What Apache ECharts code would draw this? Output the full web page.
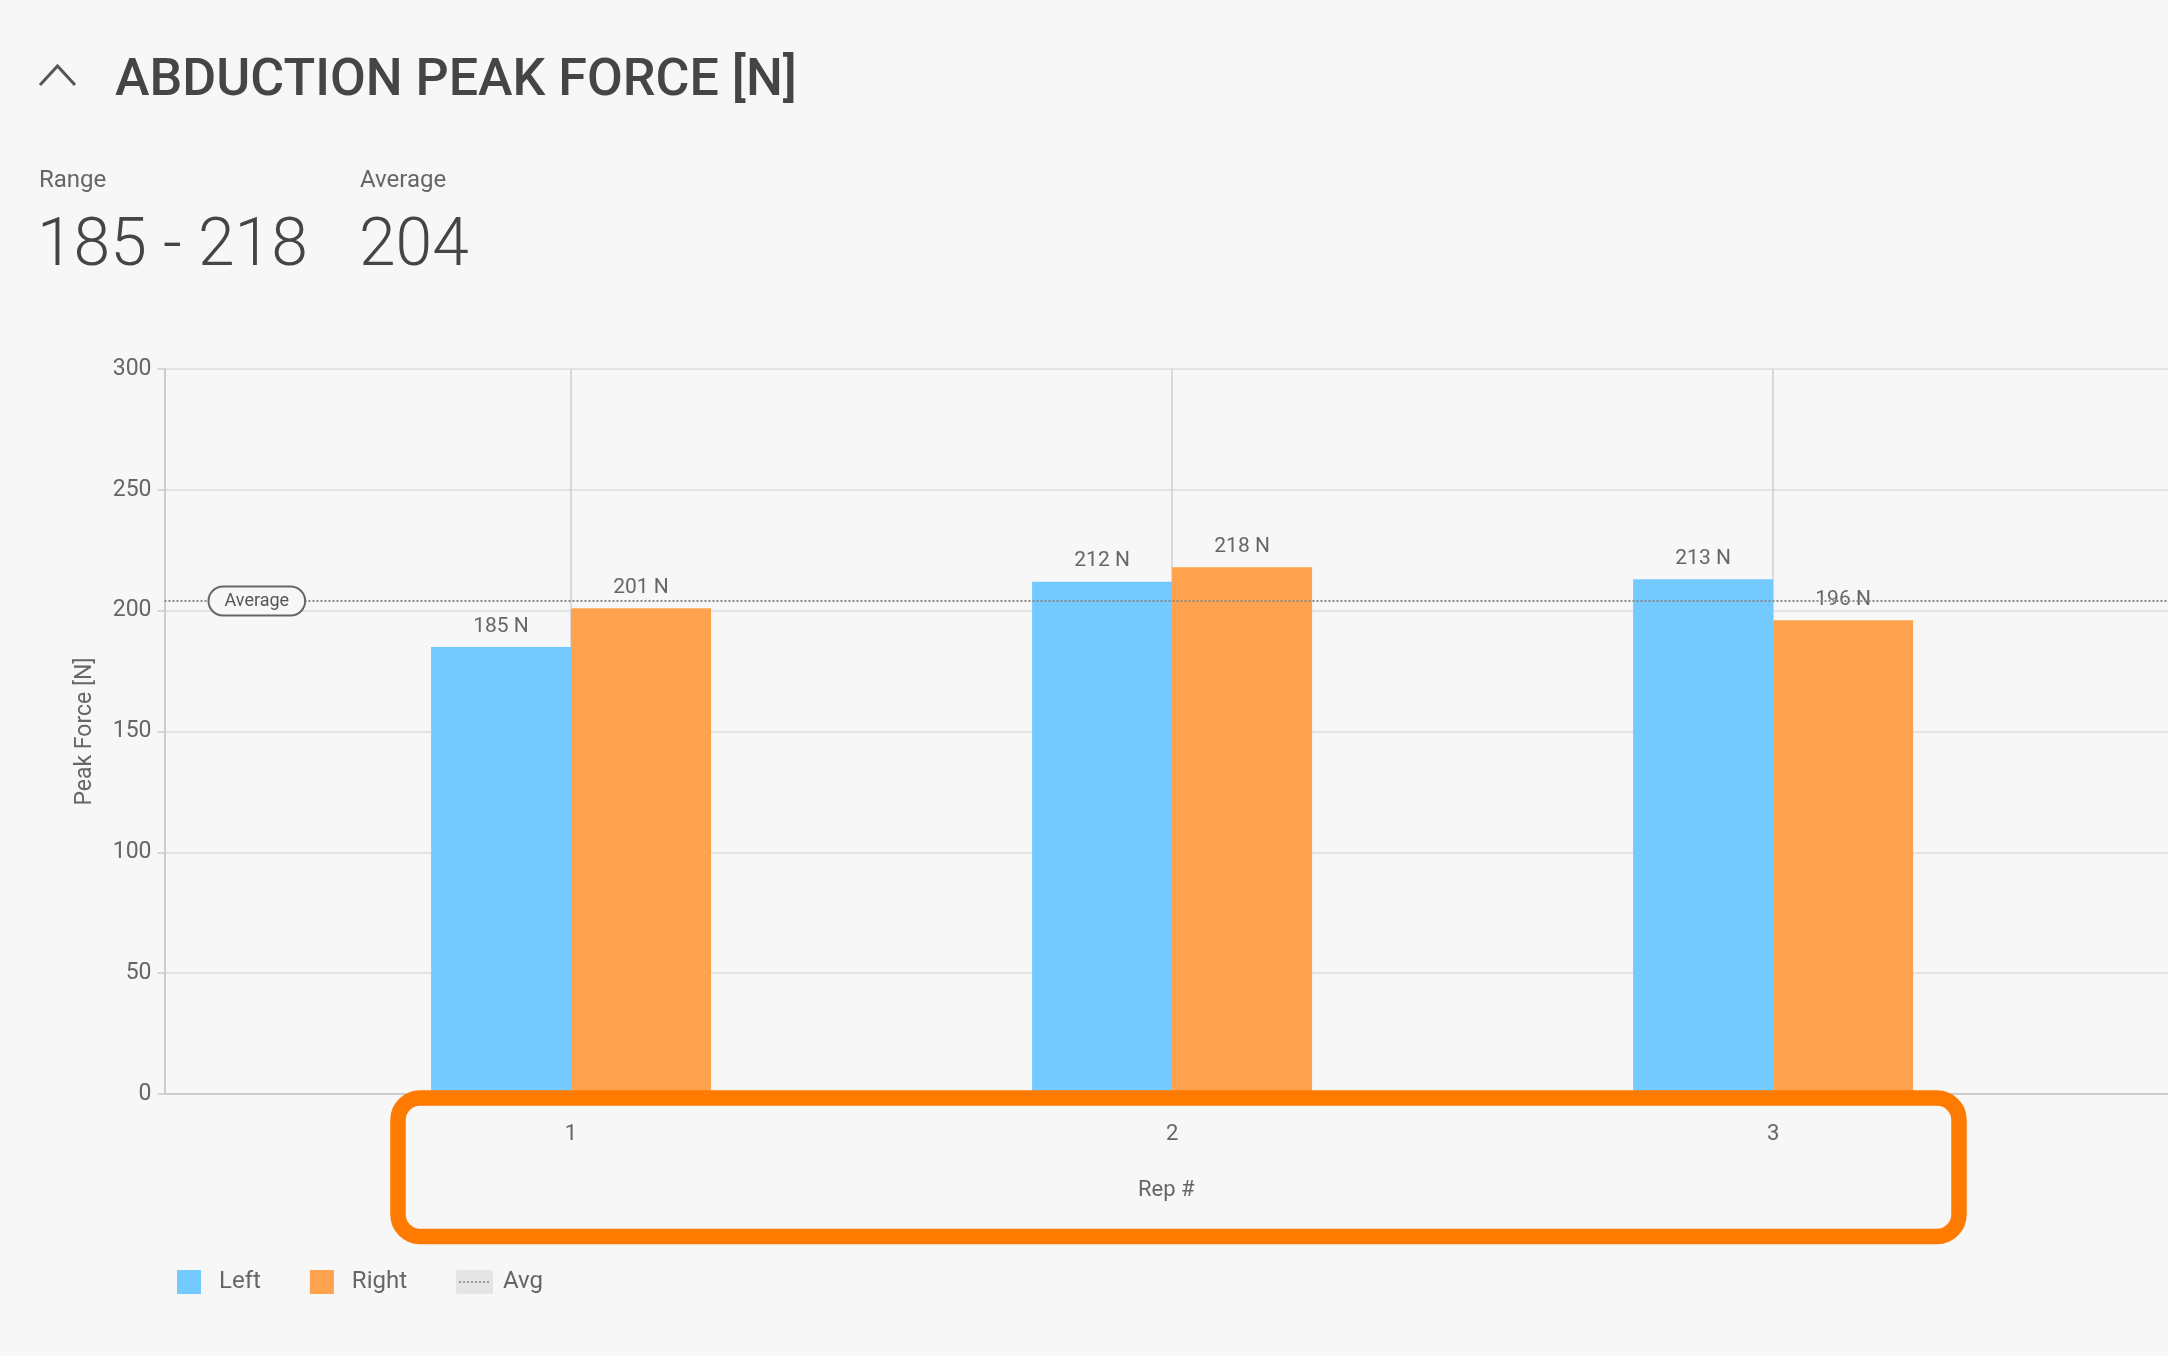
<!DOCTYPE html>
<html>
<head>
<meta charset="utf-8">
<title>Abduction Peak Force</title>
<script src="https://cdn.jsdelivr.net/npm/echarts@6/dist/echarts.min.js"></script>
<style>
  html, body { margin: 0; padding: 0; background: #f7f7f7; }
  #chart { width: 2168px; height: 1356px; }
</style>
</head>
<body>
<div id="chart"></div>
<script>
// rep numbers (x axis)
const reps = [1, 2, 3];
// peak force per rep [N]
const leftForce = [185, 212, 213];
const rightForce = [201, 218, 196];
// y axis ticks
const yMin = 0;
const yMax = 300;
const yStep = 50;

const allForce = leftForce.concat(rightForce);
const avgForce = Math.round(allForce.reduce((a, b) => a + b, 0) / allForce.length);
const rangeText = Math.min(...allForce) + ' - ' + Math.max(...allForce);

const FONT = 'Roboto, "Noto Sans", sans-serif';
const TEXT = '#666';

// legend icons: 37x24 box, square drawn at the left
const squareIcon = 'path://M0,0H24V24H0Z M37,24L37,24';
const avgSvg = '<svg xmlns="http://www.w3.org/2000/svg" width="37" height="24" viewBox="0 0 37 24">' +
  '<rect x="0" y="0" width="37" height="24" rx="2" fill="#e5e5e5"/>' +
  '<line x1="3" y1="12" x2="34" y2="12" stroke="#999" stroke-width="2" stroke-dasharray="2 2"/></svg>';
const avgIcon = 'image://data:image/svg+xml;charset=utf-8,' + encodeURIComponent(avgSvg);

const chart = echarts.init(document.getElementById('chart'));

const barLabel = {
  show: true,
  position: 'top',
  distance: 10,
  fontSize: 21,
  fontFamily: FONT,
  color: TEXT,
  formatter: (p) => p.value[1] + ' N'
};

chart.setOption({
  backgroundColor: '#f7f7f7',
  animation: false,
  textStyle: { fontFamily: FONT },
  title: {
    text: 'ABDUCTION PEAK FORCE [N]',
    left: 115,
    top: 56,
    padding: 0,
    textStyle: {
      fontSize: 52,
      lineHeight: 52,
      fontWeight: 500,
      fontFamily: FONT,
      color: '#454545'
    }
  },
  legend: {
    left: 177,
    top: 1270,
    padding: 0,
    itemWidth: 37,
    itemHeight: 24,
    itemGap: 49,
    textStyle: { fontSize: 24, color: TEXT, fontFamily: FONT },
    data: [
      { name: 'Left', icon: squareIcon },
      { name: 'Right', icon: squareIcon },
      { name: 'Avg', icon: avgIcon, textStyle: { padding: [0, 0, 0, 5] } }
    ]
  },
  grid: {
    left: 164.5,
    right: 0,
    top: 369,
    bottom: 262,
    containLabel: false
  },
  xAxis: {
    type: 'value',
    min: 0.3236,
    max: 3.657,
    name: 'Rep #',
    nameLocation: 'middle',
    nameGap: 85,
    nameTextStyle: { fontSize: 22, color: TEXT, fontFamily: FONT },
    axisLine: { show: true, lineStyle: { color: '#cccccc', width: 2 } },
    axisTick: { show: false, customValues: reps },
    axisLabel: { customValues: reps, fontSize: 22, color: TEXT, margin: 29, fontFamily: FONT },
    splitLine: { show: true, lineStyle: { color: '#cfcfcf', width: 1.5 } }
  },
  yAxis: {
    type: 'value',
    min: yMin,
    max: yMax,
    interval: yStep,
    name: 'Peak Force [N]',
    nameLocation: 'middle',
    nameGap: 68,
    nameTextStyle: { fontSize: 23, color: TEXT, fontFamily: FONT },
    axisLine: { show: true, lineStyle: { color: '#cccccc', width: 2 } },
    axisTick: { show: true, length: 7, lineStyle: { color: '#cccccc', width: 1.5 } },
    axisLabel: { fontSize: 23, color: TEXT, margin: 13, fontFamily: FONT },
    splitLine: { show: true, lineStyle: { color: '#dddddd', width: 1.5 } }
  },
  series: [
    {
      name: 'Left',
      type: 'bar',
      barWidth: 140,
      barGap: '0%',
      itemStyle: { color: '#73caff' },
      label: barLabel,
      data: reps.map((r, i) => [r, leftForce[i]])
    },
    {
      name: 'Right',
      type: 'bar',
      barWidth: 140,
      barGap: '0%',
      itemStyle: { color: '#ffa24d' },
      label: barLabel,
      data: reps.map((r, i) => [r, rightForce[i]])
    },
    {
      name: 'Avg',
      type: 'line',
      data: [],
      itemStyle: { color: '#999' },
      markLine: {
        silent: true,
        symbol: 'none',
        z: 10,
        lineStyle: { type: [2, 2], color: '#8a8a8a', width: 2 },
        label: {
          show: true,
          position: 'insideStart',
          distance: [45, 0],
          formatter: 'Average',
          fontSize: 18,
          fontFamily: FONT,
          color: '#555',
          backgroundColor: '#f7f7f7',
          borderColor: '#666',
          borderWidth: 2,
          borderRadius: 15,
          padding: [5, 15, 4, 15]
        },
        data: [{ yAxis: avgForce }]
      }
    }
  ],
  graphic: [
    {
      type: 'polyline',
      shape: { points: [[40, 85], [57.5, 66], [75, 85]] },
      style: { stroke: '#555', lineWidth: 3, fill: null }
    },
    {
      type: 'text', x: 39, y: 181,
      style: { text: 'Range', font: '400 24px ' + FONT, fill: TEXT, verticalAlign: 'middle' }
    },
    {
      type: 'text', x: 360, y: 181,
      style: { text: 'Average', font: '400 24px ' + FONT, fill: TEXT, verticalAlign: 'middle' }
    },
    {
      type: 'text', x: 37, y: 248,
      style: { text: rangeText, font: '300 66px ' + FONT, fill: '#454545', verticalAlign: 'middle' }
    },
    {
      type: 'text', x: 359, y: 248,
      style: { text: String(avgForce), font: '300 66px ' + FONT, fill: '#454545', verticalAlign: 'middle' }
    },
    {
      type: 'rect',
      z: 100,
      shape: { x: 398, y: 1098, width: 1561, height: 138.5, r: 22 },
      style: { fill: null, stroke: '#ff7a00', lineWidth: 15.5 }
    }
  ]
});
</script>
</body>
</html>
